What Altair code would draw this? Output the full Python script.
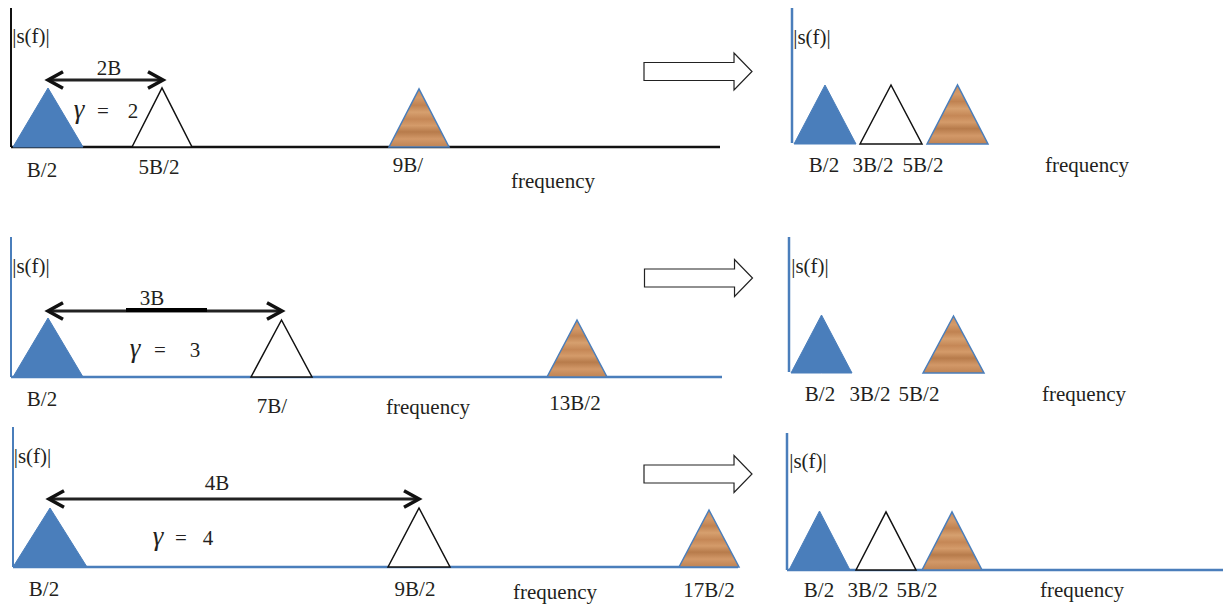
import altair as alt
import pandas as pd

# ---------------- diagram content ----------------
# Canvas units correspond to the picture's own coordinate grid.
BLUE = "#4a7ebb"
INK = "#231f20"

# spectral triangles, panels in order: row1-left, row1-right, row2-left, row2-right, row3-left, row3-right
tri_kind = ["blue", "white", "brown", "blue", "white", "brown",
            "blue", "white", "brown", "blue", "brown",
            "blue", "white", "brown", "blue", "white", "brown"]
tri_centre = [48, 162, 419, 825, 891, 957.5,
              48, 281.5, 577, 821.5, 953.5,
              50, 419, 709, 819.5, 886, 952]
tri_half = [35, 30, 30, 31, 31, 30.5,
            35, 30.5, 30, 30.5, 30.5,
            37, 31, 30, 30.5, 30, 30]
tri_apex = [88, 88, 89, 85, 85, 85,
            318, 320, 320, 315, 316,
            508, 508, 510, 511, 512, 512]
tri_base = [147, 147, 147, 144, 144, 144,
            377, 377, 377, 373, 373,
            567, 567, 567, 570, 570, 570]

# axis lines (vertical |s(f)| axes and frequency baselines)
axis_x1 = [11, 11, 792, 11, 11, 789, 13, 13, 787, 787]
axis_y1 = [7, 147, 7, 237, 377, 237, 427, 567, 433, 570]
axis_x2 = [11, 720, 792, 11, 722, 789, 13, 738, 787, 1231]
axis_y2 = [147, 147, 143, 377, 377, 372, 567, 567, 570, 570]
axis_col = ["#111111", "#111111", BLUE, BLUE, BLUE, BLUE, BLUE, BLUE, BLUE, BLUE]
axis_w = [2, 2.5, 2.5, 2, 2.5, 2.5, 2, 2.5, 2.5, 2.5]

# double-headed spacing arrows (2B, 3B, 4B)
span_left = [48, 48, 49]
span_right = [163, 282, 419]
span_level = [80, 311, 499]

# hollow block arrows between the left and right panels
block_x = [698, 698.5, 698]
block_y = [71.5, 278, 474]

# texts
lab_text = ["|s(f)|", "|s(f)|", "|s(f)|", "|s(f)|", "|s(f)|", "|s(f)|",
            "B/2", "5B/2", "9B/", "frequency",
            "B/2", "3B/2", "5B/2", "frequency",
            "B/2", "7B/", "frequency", "13B/2",
            "B/2", "3B/2", "5B/2", "frequency",
            "B/2", "9B/2", "17B/2", "frequency",
            "B/2", "3B/2", "5B/2", "frequency",
            "2B", "3B", "4B",
            "=", "2", "=", "3", "=", "4"]
lab_x = [31, 812, 31, 810, 32.5, 808,
         42, 159, 408, 553,
         824, 873, 923, 1087,
         42, 272, 428, 575,
         820, 870, 919, 1084,
         44, 415, 709, 555,
         819, 868, 917, 1082,
         109, 152, 217,
         103, 133, 160, 195, 181, 208]
lab_y = [43, 44, 273, 273, 463, 468,
         177, 174, 172, 188,
         172, 172, 172, 172,
         406, 413, 414, 410,
         401, 401, 401, 401,
         596, 596, 597, 599,
         597, 597, 597, 597,
         75, 305, 490,
         118, 118, 357, 357, 545, 545]

gamma_x = [79, 135, 158]
gamma_y = [118, 357, 545]

# ---------------- build tables ----------------
rows = []
for i, (k, c, h, a, b) in enumerate(zip(tri_kind, tri_centre, tri_half, tri_apex, tri_base)):
    for j, (px, py) in enumerate([(c - h, b), (c, a), (c + h, b)]):
        rows.append({"id": i, "kind": k, "k": j, "px": px, "py": py, "base": b})
tri = pd.DataFrame(rows)

axes = pd.DataFrame({"x1": axis_x1, "y1": axis_y1, "x2": axis_x2, "y2": axis_y2,
                     "col": axis_col, "w": axis_w})
spans = pd.DataFrame({"xl": span_left, "xr": span_right, "y": span_level})
blocks = pd.DataFrame({"x": block_x, "y": block_y})
labels = pd.DataFrame({"t": lab_text, "x": lab_x, "y": lab_y})
gammas = pd.DataFrame({"t": ["γ"] * 3, "x": gamma_x, "y": gamma_y})
extra = pd.DataFrame({"xl": [126], "xr": [207], "y": [310]})

W, H = 1215, 597
xs = alt.Scale(domain=[8, 8 + W], nice=False, zero=False)
ys = alt.Scale(domain=[8, 8 + H], nice=False, zero=False, reverse=True)


def X(f):
    return alt.X(f, type="quantitative", scale=xs, axis=None)


def Y(f):
    return alt.Y(f, type="quantitative", scale=ys, axis=None, stack=None)


# triangles (each one an area between its base and its two sloping sides)
def tri_layer(kind, **mark):
    return (alt.Chart(tri).transform_filter(alt.datum.kind == kind)
            .mark_area(interpolate="linear", **mark)
            .encode(x=X("px"), y=Y("py"), y2=alt.Y2("base"), detail="id:N"))


wood = alt.Gradient(
    gradient="linear", x1=0, y1=0, x2=0, y2=1,
    stops=[alt.GradientStop(color="#c98b5a", offset=0.0),
           alt.GradientStop(color="#d49a69", offset=0.15),
           alt.GradientStop(color="#c08251", offset=0.28),
           alt.GradientStop(color="#d6a06f", offset=0.40),
           alt.GradientStop(color="#c58756", offset=0.52),
           alt.GradientStop(color="#d49b6a", offset=0.63),
           alt.GradientStop(color="#b77b4b", offset=0.74),
           alt.GradientStop(color="#d29868", offset=0.86),
           alt.GradientStop(color="#bf8353", offset=1.0)])

blue_tri = tri_layer("blue", fill=BLUE, stroke=BLUE, strokeWidth=1, opacity=1)
white_tri = tri_layer("white", fill="white", stroke="#111111", strokeWidth=1.5, opacity=1)
brown_tri = tri_layer("brown", fill=wood, stroke=BLUE, strokeWidth=1.5, opacity=1)

axis_lines = alt.Chart(axes).mark_rule().encode(
    x=X("x1"), y=Y("y1"), x2=alt.X2("x2"), y2=alt.Y2("y2"),
    color=alt.Color("col:N", scale=None),
    strokeWidth=alt.StrokeWidth("w:Q", scale=None))

shafts = alt.Chart(spans).mark_rule(color="#222222", strokeWidth=3).encode(
    x=X("xl"), x2=alt.X2("xr"), y=Y("y"))
shaft_extra = alt.Chart(extra).mark_rule(color="#000000", strokeWidth=4).encode(
    x=X("xl"), x2=alt.X2("xr"), y=Y("y"))

head_left = alt.Chart(spans).mark_point(
    shape="M 1 -0.55 L 0 0 L 1 0.55", size=900, filled=False, stroke="#111111",
    strokeWidth=3.5, opacity=1, strokeJoin="miter").encode(x=X("xl"), y=Y("y"))
head_right = alt.Chart(spans).mark_point(
    shape="M -1 -0.55 L 0 0 L -1 0.55", size=900, filled=False, stroke="#111111",
    strokeWidth=3.5, opacity=1, strokeJoin="miter").encode(x=X("xr"), y=Y("y"))

block = alt.Chart(blocks).mark_point(
    shape="M -1 -0.167 L 0.667 -0.167 L 0.667 -0.343 L 1 0 L 0.667 0.343 L 0.667 0.167 L -1 0.167 Z",
    size=108 * 108, filled=True, fill="white", stroke="#222222", strokeWidth=1.2,
    opacity=1).encode(x=X("x"), y=Y("y"))

texts = alt.Chart(labels).mark_text(
    font="Liberation Serif", fontSize=21, color=INK, align="center",
    baseline="alphabetic").encode(x=X("x"), y=Y("y"), text="t:N")

gamma_txt = alt.Chart(gammas).mark_text(
    font="Liberation Serif", fontSize=27, fontStyle="italic", color=INK,
    align="center", baseline="alphabetic").encode(x=X("x"), y=Y("y"), text="t:N")

chart = alt.layer(
    axis_lines, blue_tri, white_tri, brown_tri, shafts, shaft_extra,
    head_left, head_right, block, texts, gamma_txt
).properties(
    width=W, height=H,
    autosize=alt.AutoSizeParams(type="none"),
    padding=0,
    background="white",
).configure_view(stroke=None)

chart.save("out.html", embed_options={"renderer": "svg", "actions": False})
